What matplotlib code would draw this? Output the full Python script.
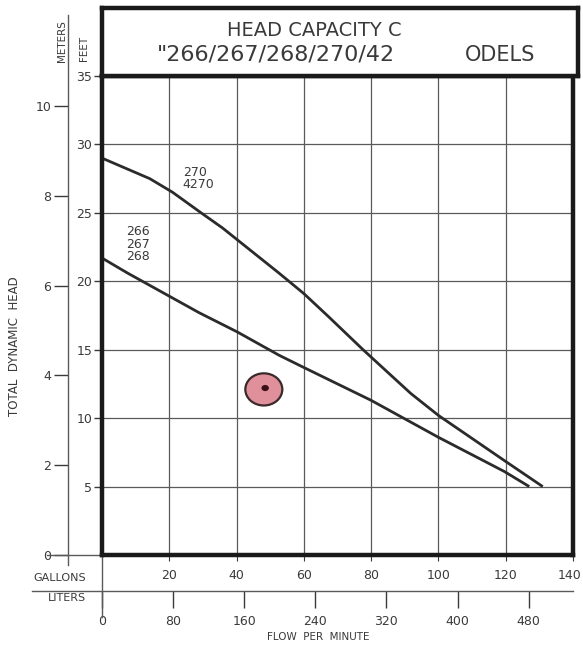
import matplotlib
matplotlib.use("Agg")
import matplotlib.pyplot as plt
from matplotlib.lines import Line2D
from matplotlib.patches import Ellipse
from matplotlib.transforms import ScaledTranslation

# ---- data ----
gallon_ticks = [20, 40, 60, 80, 100, 120, 140]
liter_ticks = [0, 80, 160, 240, 320, 400, 480]
feet_ticks = [5, 10, 15, 20, 25, 30, 35]
meter_ticks = [0, 2, 4, 6, 8, 10]

gpm_270 = [0, 14.2, 21.0, 28.9, 35.8, 52.6, 60.0, 67.4, 77.6, 91.8, 100.0, 119.6, 131.0]
ft_270 = [29.0, 27.5, 26.5, 25.1, 23.9, 20.6, 19.1, 17.4, 15.0, 11.8, 10.2, 6.9, 5.0]

gpm_266 = [0, 7.6, 28.9, 40.2, 52.6, 60.0, 80.0, 100.0, 119.6, 127.0]
ft_266 = [21.7, 20.6, 17.7, 16.3, 14.6, 13.7, 11.3, 8.6, 6.1, 5.0]

label_270 = "270\n4270"
label_266 = "266\n267\n268"
title_1 = "HEAD CAPACITY C"
title_2a = '"266/267/268/270/42'
title_2b = "ODELS"

INK = "#2b2b2b"
TXT = "#3a3a3a"
GRID = "#5a5a5a"

W, H = 583, 649
fig = plt.figure(figsize=(W / 100, H / 100), dpi=100)
fig.patch.set_facecolor("white")
plt.rcParams["font.family"] = ["DejaVu Sans"]

L, R, T, B = 102, 573, 76, 555
pw, ph = R - L, B - T
ax = fig.add_axes([L / W, 1 - B / H, pw / W, ph / H])
ax.set_xlim(0, 140)
ax.set_ylim(0, 35)

ax.set_xticks(gallon_ticks)
ax.set_xticklabels([str(v) for v in gallon_ticks])
ax.set_yticks(feet_ticks)
ax.set_yticklabels([str(v) for v in feet_ticks])
ax.grid(True, color=GRID, lw=0.9)
ax.set_axisbelow(True)
for s in ax.spines.values():
    s.set_linewidth(3.2)
    s.set_color("#1a1a1a")
ax.tick_params(axis="y", direction="out", length=6, width=1, pad=1,
               labelsize=9, colors=TXT)
ax.tick_params(axis="x", direction="out", length=4, width=0.8, pad=6,
               labelsize=9, colors=TXT)
last = ax.get_xticklabels()[-1]
last.set_transform(last.get_transform() + ScaledTranslation(-3 / 100, 0, fig.dpi_scale_trans))

# curves
ax.plot(gpm_270, ft_270, color=INK, lw=2.0, solid_capstyle="butt", solid_joinstyle="round")
ax.plot(gpm_266, ft_266, color=INK, lw=2.0, solid_capstyle="butt", solid_joinstyle="round")
ax.text(24.0, 27.5, label_270, fontsize=9, color=TXT, ha="left", va="center",
        linespacing=0.95)
ax.text(7.2, 22.7, label_266, fontsize=9, color=TXT, ha="left", va="center",
        linespacing=0.95)

# stain on the scan
ax.add_patch(Ellipse((48.1, 12.1), 11.0, 2.35, facecolor="#e0909a",
                     edgecolor="#3a2a2a", lw=1.6, zorder=4))
ax.add_patch(Ellipse((48.5, 12.2), 2.2, 0.45, facecolor="#3a1018",
                     edgecolor="none", zorder=5))

# meters axis
mx = (68 - L) / pw
sec = ax.secondary_yaxis(mx, functions=(lambda f: f / 3.2808, lambda m: m * 3.2808))
sec.set_yticks(meter_ticks)
sec.set_yticklabels([str(v) for v in meter_ticks])
sec.tick_params(direction="out", length=10, width=1, pad=2, labelsize=9, colors=TXT)
sec.spines["left"].set_visible(False)
ax.add_line(Line2D([mx, mx], [(B - 565) / ph, (B - 15) / ph], transform=ax.transAxes,
                   color=GRID, lw=1.0, clip_on=False))
ax.add_line(Line2D([(47 - L) / pw, 0], [0, 0], transform=ax.transAxes,
                   color=GRID, lw=1.0, clip_on=False))

# liters axis
ly = (B - 591) / ph
secx = ax.secondary_xaxis(ly, functions=(lambda g: g * 3.78541, lambda l: l / 3.78541))
secx.set_xticks(liter_ticks)
secx.set_xticklabels([str(v) for v in liter_ticks])
secx.tick_params(direction="out", length=12, width=1, pad=5, labelsize=9, colors=TXT)
secx.spines["bottom"].set_visible(False)
ax.add_line(Line2D([(32 - L) / pw, 1], [ly, ly], transform=ax.transAxes,
                   color=GRID, lw=1.0, clip_on=False))
ax.add_line(Line2D([0, 0], [0, (B - 617) / ph], transform=ax.transAxes,
                   color=GRID, lw=1.0, clip_on=False))

# side / bottom labels
fig.text(15 / W, 1 - 346 / H, "TOTAL  DYNAMIC  HEAD", rotation=90, fontsize=8.5,
         color=TXT, ha="center", va="center")
fig.text(62 / W, 1 - 41 / H, "METERS", rotation=90, fontsize=7.5, color=TXT,
         ha="center", va="center")
fig.text(84 / W, 1 - 48 / H, "FEET", rotation=90, fontsize=7.5, color=TXT,
         ha="center", va="center")
fig.text(60 / W, 1 - 578 / H, "GALLONS", fontsize=8, color=TXT, ha="center", va="center")
fig.text(67 / W, 1 - 598 / H, "LITERS", fontsize=8, color=TXT, ha="center", va="center")
fig.text(318 / W, 1 - 637 / H, "FLOW  PER  MINUTE", fontsize=7.5, color=TXT,
         ha="center", va="center")

# title box
tb = fig.add_axes([L / W, 1 - T / H, (578 - L) / W, (T - 8) / H])
tb.set_xticks([])
tb.set_yticks([])
for s in tb.spines.values():
    s.set_linewidth(3.2)
    s.set_color("#1a1a1a")
TW = 578 - L
tb.text((227 - L) / TW, (T - 30) / (T - 8), title_1, fontsize=14, color=TXT,
        ha="left", va="center", transform=tb.transAxes)
tb.text((157 - L) / TW, (T - 55) / (T - 8), title_2a, fontsize=16, color=TXT,
        ha="left", va="center", transform=tb.transAxes)
tb.text((465 - L) / TW, (T - 55) / (T - 8), title_2b, fontsize=15, color=TXT,
        ha="left", va="center", transform=tb.transAxes)

fig.savefig("out.png", dpi=100, facecolor="white")
